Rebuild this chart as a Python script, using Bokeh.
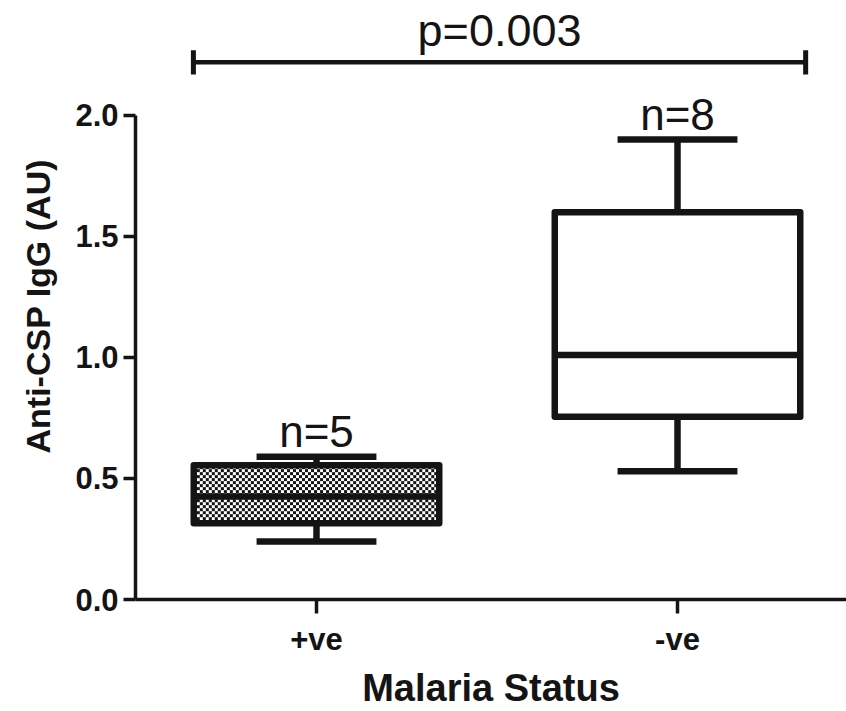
import numpy as np
from bokeh.plotting import figure
from bokeh.models import Range1d, FixedTicker, PrintfTickFormatter, Title
from bokeh.core.properties import value
from bokeh.embed import file_html
from bokeh.resources import INLINE

# ---- data ----
groups = ["+ve", "-ve"]
group_pos = [1, 2]
n_counts = [5, 8]
whisker_low = [0.24, 0.53]
q1 = [0.315, 0.755]
median = [0.425, 1.01]
q3 = [0.555, 1.60]
whisker_high = [0.59, 1.90]
y_ticks = [0.0, 0.5, 1.0, 1.5, 2.0]
p_label = "p=0.003"
x_label = "Malaria Status"
y_label = "Anti-CSP IgG (AU)"

# ---- layout constants ----
W, H = 846, 711
LEFT, BOTTOM = 135, 111
frame_w = W - LEFT
frame_h = H - BOTTOM
PX_X = 361.0      # px per x unit
PX_Y = 242.5      # px per y unit
x_start = 1 - (316 - LEFT) / PX_X
BOX_HALF = 0.34
CAP_HALF = 0.166
P_X0, P_X1, P_Y, P_CAP = 0.659, 2.355, 2.219, 0.05
P_GAP = 32 / PX_Y
N_GAP = 25 / PX_Y
INK = "#141414"
LW = 6.5
FONT = value("Liberation Sans")

p = figure(width=W, height=H, output_backend="svg", toolbar_location=None,
           x_range=Range1d(x_start, x_start + frame_w / PX_X),
           y_range=Range1d(0, frame_h / PX_Y),
           min_border_left=LEFT, min_border_right=0, min_border_top=0,
           min_border_bottom=BOTTOM)
p.outline_line_color = None
p.xgrid.visible = False
p.ygrid.visible = False
p.background_fill_color = "white"
p.border_fill_color = "white"

# checker texture for the +ve box
bw_px = int(round(2 * BOX_HALF * PX_X))
bh_px = int(round((q3[0] - q1[0]) * PX_Y))
yy, xx = np.mgrid[0:bh_px, 0:bw_px]
checker = ((yy // 3 + xx // 3) % 2) == 0
img = np.where(checker, np.uint32(0xFF141414), np.uint32(0xFFFFFFFF)).astype(np.uint32)
p.image_rgba(image=[img], x=group_pos[0] - BOX_HALF, y=q1[0],
             dw=2 * BOX_HALF, dh=q3[0] - q1[0])

left = [g - BOX_HALF for g in group_pos]
right = [g + BOX_HALF for g in group_pos]
cap_l = [g - CAP_HALF for g in group_pos]
cap_r = [g + CAP_HALF for g in group_pos]

# whiskers
p.segment(x0=group_pos, x1=group_pos, y0=q3, y1=whisker_high, line_color=INK, line_width=LW)
p.segment(x0=group_pos, x1=group_pos, y0=whisker_low, y1=q1, line_color=INK, line_width=LW)
p.segment(x0=cap_l, x1=cap_r, y0=whisker_high, y1=whisker_high, line_color=INK, line_width=LW)
p.segment(x0=cap_l, x1=cap_r, y0=whisker_low, y1=whisker_low, line_color=INK, line_width=LW)
# boxes
p.quad(left=left, right=right, bottom=q1, top=q3, fill_color=None,
       line_color=INK, line_width=LW, line_join="round")
p.segment(x0=left, x1=right, y0=median, y1=median, line_color=INK, line_width=LW)

# n labels
p.text(x=group_pos, y=[h + N_GAP for h in whisker_high], text=[f"n={n}" for n in n_counts],
       text_font=FONT, text_font_size="44px", text_color=INK,
       text_align="center", text_baseline="alphabetic")

# p-value bar
p.segment(x0=[P_X0], x1=[P_X1], y0=[P_Y], y1=[P_Y], line_color=INK, line_width=4.5)
p.segment(x0=[P_X0, P_X1], x1=[P_X0, P_X1], y0=[P_Y - P_CAP] * 2, y1=[P_Y + P_CAP] * 2,
          line_color=INK, line_width=5)
p.text(x=[(P_X0 + P_X1) / 2], y=[P_Y + P_GAP], text=[p_label], text_font=FONT,
       text_font_size="45px", text_color=INK, text_align="center",
       text_baseline="alphabetic")

# axes
for ax in (p.xaxis[0], p.yaxis[0]):
    ax.axis_line_color = INK
    ax.axis_line_width = 3.5
    ax.major_tick_line_color = INK
    ax.major_tick_line_width = 3.5
    ax.major_tick_in = 0
    ax.minor_tick_line_color = None
    ax.major_label_text_font = "Liberation Sans"
    ax.major_label_text_font_style = "bold"
    ax.major_label_text_color = INK
    ax.major_label_text_font_size = "31px"
    ax.axis_label_text_font = "Liberation Sans"
    ax.axis_label_text_font_style = "bold"
    ax.axis_label_text_color = INK

p.yaxis.ticker = FixedTicker(ticks=y_ticks)
p.yaxis.formatter = PrintfTickFormatter(format="%.1f")
p.yaxis.bounds = (0, 2)
p.yaxis.major_tick_out = 12
p.yaxis.major_label_standoff = 5

# y-axis title placed as a side title so it can be positioned along the axis
ytitle = Title(text=y_label, align="left", offset=146, vertical_align="middle",
               text_font="Liberation Sans", text_font_style="bold",
               text_font_size="34px", text_color=INK, standoff=30)
p.add_layout(ytitle, "left")

p.xaxis.ticker = FixedTicker(ticks=group_pos)
p.xaxis.major_label_overrides = dict(zip(group_pos, groups))
p.xaxis.major_tick_out = 14
p.xaxis.major_label_standoff = 8
p.xaxis.axis_label = x_label
p.xaxis.axis_label_text_font_size = "38px"
p.xaxis.axis_label_standoff = 7

open("out.html", "w").write(file_html(p, INLINE))
